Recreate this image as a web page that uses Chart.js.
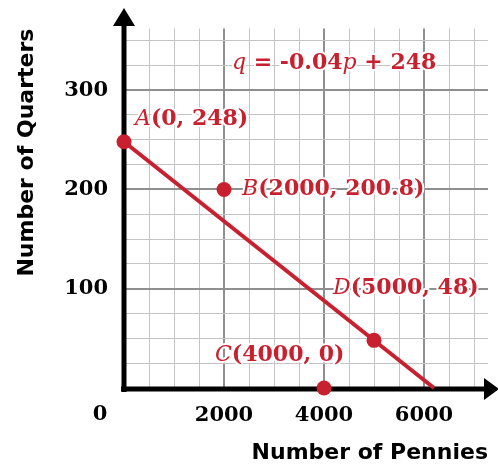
<!DOCTYPE html>
<html>
<head>
<meta charset="utf-8">
<script src="https://cdn.jsdelivr.net/npm/chart.js@4"></script>
<style>
  html, body { margin: 0; padding: 0; background: #fff; }
  #wrap { width: 498px; height: 466px; position: relative; }
</style>
</head>
<body>
<div id="wrap"><canvas id="grafico"></canvas></div>
<script>
// dados do gráfico
const linhaP = [0, 6200];
const linhaQ = [248, 0];
const pontoNome = ['A', 'B', 'C', 'D'];
const pontoP = [0, 2000, 4000, 5000];
const pontoQ = [248, 200, 0, 48];
const pontoTexto = ['(0, 248)', '(2000, 200.8)', '(4000, 0)', '(5000, 48)'];
const ticksX = [2000, 4000, 6000];
const ticksY = [100, 200, 300];

const VERMELHO = '#c8202f';
const SERIF_B = "bold 22px 'DejaVu Serif'";
const SERIF_I = "italic 22px 'DejaVu Serif'";

// linhas da grade: a cada 500 moedas / 25 moedas
function grade(passo, fim) {
  const v = [];
  for (let i = 0; i <= fim; i += passo) v.push({ value: i });
  return v;
}

// desenha texto com estilos misturados e halo branco
function textoRico(ctx, x, y, partes) {
  ctx.save();
  ctx.textBaseline = 'middle';
  ctx.textAlign = 'left';
  let cx = x;
  partes.forEach(([t, f]) => {
    ctx.font = f;
    ctx.lineWidth = 4;
    ctx.strokeStyle = '#fff';
    ctx.lineJoin = 'round';
    ctx.strokeText(t, cx, y);
    ctx.fillStyle = VERMELHO;
    ctx.fillText(t, cx, y);
    cx += ctx.measureText(t).width;
  });
  ctx.restore();
}

// eixos com setas (antes dos pontos)
const eixosPlugin = {
  id: 'eixos',
  beforeDatasetsDraw(chart) {
    const ctx = chart.ctx;
    const x0 = chart.scales.x.getPixelForValue(0);
    const y0 = chart.scales.y.getPixelForValue(0) + 1;
    ctx.save();
    ctx.strokeStyle = '#000';
    ctx.fillStyle = '#000';
    ctx.lineWidth = 5;
    ctx.beginPath();
    ctx.moveTo(x0, y0 + 3);
    ctx.lineTo(x0, 22);
    ctx.moveTo(x0 - 3, y0);
    ctx.lineTo(486, y0);
    ctx.stroke();
    ctx.beginPath();
    ctx.moveTo(x0, 8);
    ctx.lineTo(x0 - 11, 26);
    ctx.lineTo(x0 + 11, 26);
    ctx.closePath();
    ctx.fill();
    ctx.beginPath();
    ctx.moveTo(499, y0);
    ctx.lineTo(484, y0 - 11);
    ctx.lineTo(484, y0 + 11);
    ctx.closePath();
    ctx.fill();
    // rótulo 0 no canto
    ctx.font = "bold 21px 'DejaVu Serif'";
    ctx.textAlign = 'center';
    ctx.textBaseline = 'middle';
    ctx.fillText('0', 100, 415);
    ctx.restore();
  }
};

// rótulos dos pontos e equação
const rotulosPlugin = {
  id: 'rotulos',
  afterDatasetsDraw(chart) {
    const ctx = chart.ctx;
    const sx = chart.scales.x, sy = chart.scales.y;
    const desloc = [[11, -22], [18, 0], [-109, -33], [-41, -52]];
    pontoNome.forEach((n, i) => {
      const px = sx.getPixelForValue(pontoP[i]) + desloc[i][0];
      const py = sy.getPixelForValue(pontoQ[i]) + desloc[i][1];
      textoRico(ctx, px, py, [[n, SERIF_I], [pontoTexto[i], SERIF_B]]);
    });
    textoRico(ctx, 232, 63, [
      ['q', SERIF_I], [' = ', SERIF_B], ['-0.04', SERIF_B],
      ['p', SERIF_I], [' + 248', SERIF_B]
    ]);
  }
};

function corGrade(passoMaior) {
  return c => (c.tick.value % passoMaior === 0 ? '#8f8f8f' : '#c4c4c4');
}
function larguraGrade(passoMaior) {
  return c => (c.tick.value % passoMaior === 0 ? 2 : 1);
}

new Chart(document.getElementById('grafico'), {
  type: 'scatter',
  data: {
    datasets: [
      {
        type: 'line',
        data: linhaP.map((p, i) => ({ x: p, y: linhaQ[i] })),
        borderColor: VERMELHO,
        borderWidth: 4,
        pointRadius: 0,
        clip: false
      },
      {
        data: pontoP.map((p, i) => ({ x: p, y: pontoQ[i] })),
        backgroundColor: VERMELHO,
        borderWidth: 0,
        pointRadius: 7.5,
        clip: false
      }
    ]
  },
  options: {
    responsive: true,
    maintainAspectRatio: false,
    animation: false,
    layout: { padding: { left: 0, top: 26, right: 10, bottom: 0 } },
    plugins: { legend: { display: false }, tooltip: { enabled: false } },
    scales: {
      x: {
        type: 'linear',
        min: 0,
        max: 7280,
        afterBuildTicks: s => { s.ticks = grade(500, 7000); },
        afterFit: s => { s.height = 78; },
        border: { display: false },
        grid: { color: corGrade(2000), lineWidth: larguraGrade(2000), drawTicks: false },
        ticks: {
          autoSkip: false,
          maxRotation: 0,
          padding: 15,
          color: '#000',
          font: { family: 'DejaVu Serif', weight: 'bold', size: 21 },
          callback: v => (ticksX.includes(v) ? String(v) : '')
        },
        title: {
          display: true,
          text: 'Number of Pennies',
          align: 'end',
          color: '#000',
          font: { family: 'DejaVu Sans', weight: 'bold', size: 22 },
          padding: { top: 0, bottom: 0 }
        }
      },
      y: {
        type: 'linear',
        min: 0,
        max: 362,
        afterBuildTicks: s => { s.ticks = grade(25, 350); },
        afterFit: s => { s.width = 124; },
        border: { display: false },
        grid: { color: corGrade(100), lineWidth: larguraGrade(100), drawTicks: false },
        ticks: {
          autoSkip: false,
          padding: 16,
          color: '#000',
          font: { family: 'DejaVu Serif', weight: 'bold', size: 21 },
          callback: v => (ticksY.includes(v) ? String(v) : '')
        },
        title: {
          display: true,
          text: 'Number of Quarters',
          align: 'end',
          color: '#000',
          font: { family: 'DejaVu Sans', weight: 'bold', size: 22 },
          padding: { top: 14, bottom: 0 }
        }
      }
    }
  },
  plugins: [eixosPlugin, rotulosPlugin]
});
</script>
</body>
</html>
